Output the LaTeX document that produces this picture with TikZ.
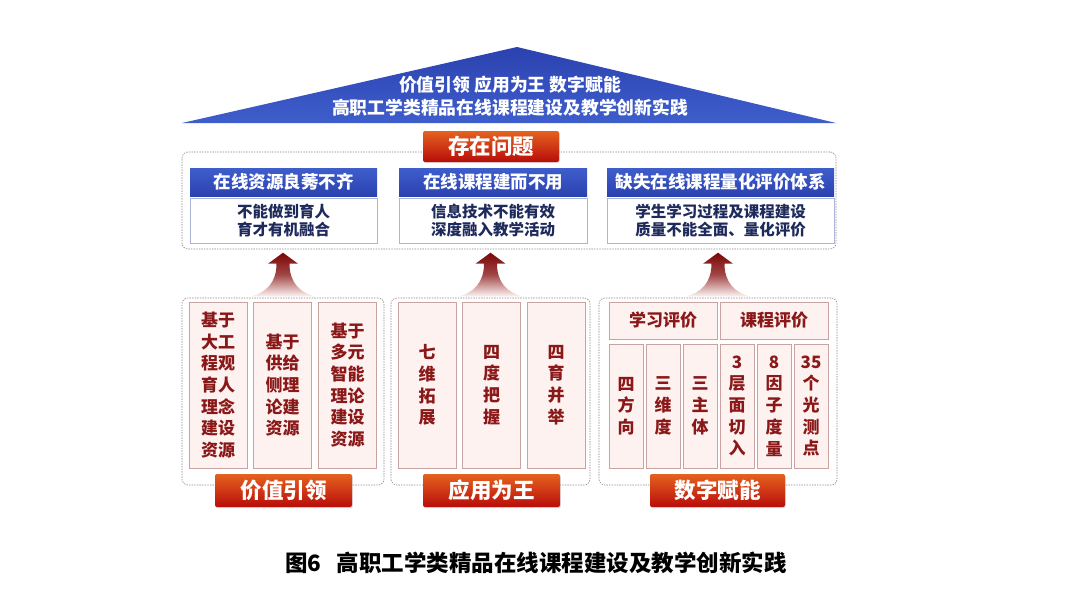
\documentclass[tikz,border=0pt]{standalone}
\usepackage{fontspec}
\setmainfont{Noto Sans CJK SC}
\usepackage{tikz}
\usetikzlibrary{positioning,calc,shadows}
\definecolor{azulalto}{HTML}{2B42B0}
\definecolor{azulbajo}{HTML}{3E5ECC}
\definecolor{azultexto}{HTML}{1E2A5C}
\definecolor{azulborde}{HTML}{A9B6D6}
\definecolor{rojoalto}{HTML}{E5621F}
\definecolor{rojobajo}{HTML}{B80D0A}
\definecolor{granate}{HTML}{8A1818}
\definecolor{flechaoscura}{HTML}{7A0606}
\definecolor{rosado}{HTML}{FDF2F0}
\definecolor{rosaborde}{HTML}{C9A2A2}
\definecolor{punteado}{HTML}{8E8088}

\begin{document}
\begin{tikzpicture}[
  x=1pt,y=-1pt,
  every node/.style={font=\bfseries,inner sep=0pt,align=center},
  marco/.style={draw=punteado,line width=0.6pt,dash pattern=on 1.4pt off 1.2pt,
                rounded corners=6pt},
  rotulo/.style={top color=rojoalto,bottom color=rojobajo,rounded corners=2pt,
                 drop shadow={shadow xshift=0.8pt,shadow yshift=-1.2pt,opacity=0.25},
                 text=white,font=\fontsize{21.5}{25}\bfseries},
  cabecera/.style={top color=azulbajo,bottom color=azulalto,minimum height=28pt,
                   text=white,font=\fontsize{17.5}{20}\bfseries},
  descripcion/.style={draw=azulborde,fill=white,minimum height=45pt,
                      text=azultexto,font=\fontsize{15.5}{18}\bfseries},
  columna/.style={draw=rosaborde,fill=rosado,text=granate,
                  font=\fontsize{17}{21.7}\bfseries},
  flecha/.style={top color=flechaoscura,bottom color=rosado!60,middle color=granate!80,draw=none}
]
\useasboundingbox (0,0) rectangle (1080,608);

\shade[top color=azulalto,bottom color=azulbajo] (182,123) -- (517,47) -- (836,123) -- cycle;
\node[text=white,font=\fontsize{17.8}{23}\bfseries] (titulo) at (510,96)
  {价值引领 应用为王 数字赋能\\高职工学类精品在线课程建设及教学创新实践};

\node[marco,minimum width=654pt,minimum height=97pt] (problemas) at (509,200.5) {};
\node[rotulo,minimum width=136pt,minimum height=31pt] (existe) at (491,146.5) {存在问题};
\foreach \i/\cx/\w/\h/\d in {
  1/283.5/187/在线资源良莠不齐/{不能做到育人\\育才有机融合},
  2/493/188/在线课程建而不用/{信息技术不能有效\\深度融入教学活动},
  3/720.5/227/缺失在线课程量化评价体系/{学生学习过程及课程建设\\质量不能全面、量化评价}} {
  \node[cabecera,minimum width=\w pt] (p\i) at (\cx,182) {\h};
  \node[descripcion,minimum width=\w pt] (d\i) at (\cx,220.5) {\d};
}

\foreach \i/\cx/\w in {1/283/202,2/490.5/199,3/718/238} {
  \node[marco,minimum width=\w pt,minimum height=187pt] (m\i) at (\cx,391.5) {};
  \begin{scope}[shift={(m\i.north)}]
    \shade[flecha] (0,-45) -- (15,-34) -- (6.5,-34) .. controls (6.5,-16) and (16,-5) .. (33,-1)
      -- (-33,-1) .. controls (-16,-5) and (-6.5,-16) .. (-6.5,-34) -- (-15,-34) -- cycle;
  \end{scope}
}

\foreach \i/\cx/\t in {
  1/218/{基于\\大工\\程观\\育人\\理念\\建设\\资源},
  2/282.5/{基于\\供给\\侧理\\论建\\资源},
  3/347.5/{基于\\多元\\智能\\理论\\建设\\资源},
  4/427/{七\\维\\拓\\展},
  5/491.5/{四\\度\\把\\握},
  6/556/{四\\育\\并\\举}} {
  \node[columna,minimum width=58pt,minimum height=166pt] (c\i) at (\cx,385) {\t};
}

\node[columna,minimum width=108pt,minimum height=37pt] (e1) at (663,320.5) {学习评价};
\node[columna,minimum width=108pt,minimum height=37pt] (e2) at (774,320.5) {课程评价};
\foreach \i/\cx/\t in {
  1/626/{四\\方\\向},2/663/{三\\维\\度},3/700/{三\\主\\体},
  4/737/{3\\层\\面\\切\\入},5/774/{8\\因\\子\\度\\量},6/811/{35\\个\\光\\测\\点}} {
  \node[columna,minimum width=34pt,minimum height=124pt] (v\i) at (\cx,406) {\t};
}

\node[rotulo,minimum width=137pt,minimum height=33pt] (r1) at (283.5,490.5) {价值引领};
\node[rotulo,minimum width=137pt,minimum height=33pt] (r2) at (491.5,490.5) {应用为王};
\node[rotulo,minimum width=135pt,minimum height=33pt] (r3) at (717.5,490.5) {数字赋能};

\node[font=\fontsize{22.5}{26}\bfseries] (pie) at (536,563)
  {图6\hspace{0.7em}高职工学类精品在线课程建设及教学创新实践};
\end{tikzpicture}
\end{document}
